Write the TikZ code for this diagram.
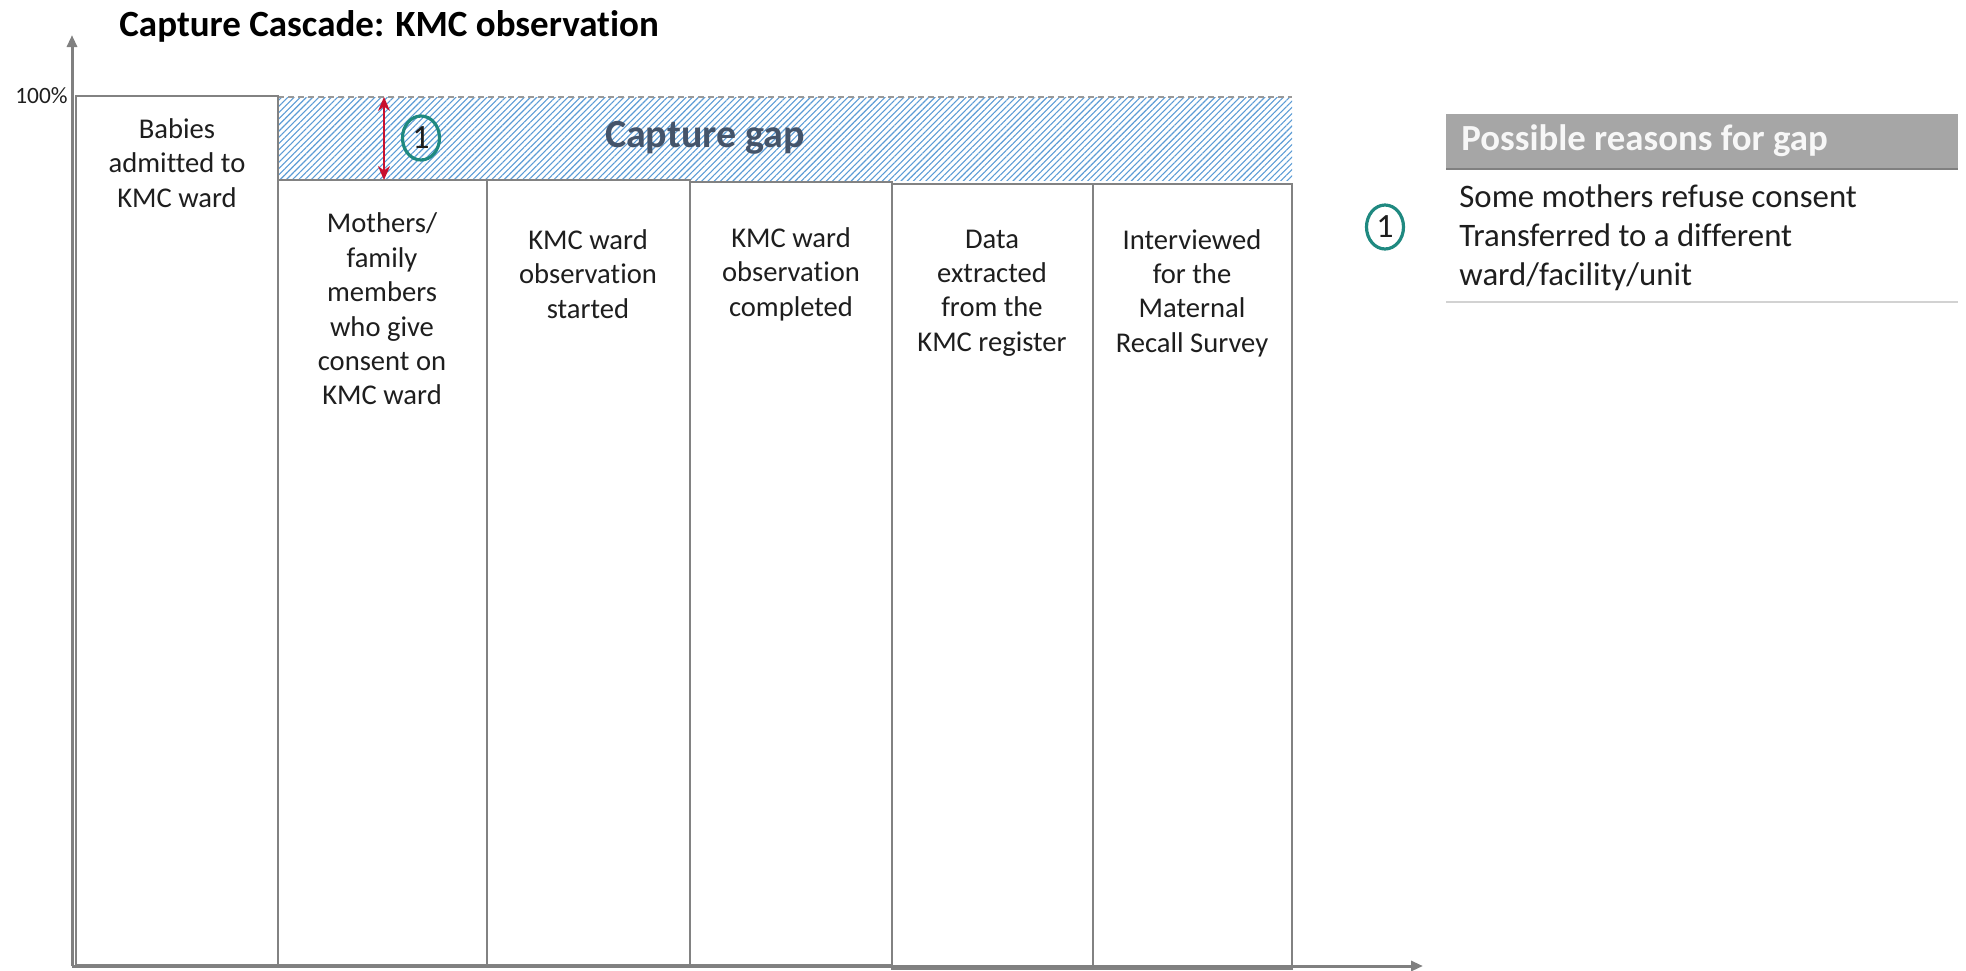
\documentclass[tikz,border=0pt]{standalone}
\usepackage{fontspec}
\setmainfont{Carlito}[Ligatures=NoCommon]
\usetikzlibrary{arrows.meta,patterns.meta,shapes.geometric}
\definecolor{axisgray}{RGB}{128,128,128}
\definecolor{boxgray}{RGB}{130,130,130}
\definecolor{hatchblue}{RGB}{91,155,213}
\definecolor{gapblue}{RGB}{68,84,106}
\definecolor{arrowred}{RGB}{200,16,46}
\definecolor{tealc}{RGB}{31,137,128}
\definecolor{headgray}{RGB}{166,166,166}
\definecolor{rulegray}{RGB}{210,210,210}
\definecolor{txt}{RGB}{30,30,30}
\tikzset{
  axisline/.style={draw=axisgray, line width=1.5pt, -{Triangle[length=6pt,width=5pt]}},
  barbox/.style={draw=boxgray, line width=0.8pt, fill=white},
  bartext/.style={align=center, inner sep=0pt, text=txt, font=\fontsize{14.3}{17.2}\selectfont},
  numcircle/.style={ellipse, draw=tealc, line width=1.6pt, inner sep=0pt, minimum width=18.5pt, minimum height=22pt, text=txt, font=\fontsize{17}{17}\selectfont},
  gaphatch/.style={pattern={Lines[angle=45,distance=2.2pt,line width=0.55pt]}, pattern color=hatchblue},
  gapdash/.style={draw=axisgray!80, line width=0.8pt, dash pattern=on 3pt off 2pt},
  redarrow/.style={draw=arrowred, line width=0.9pt, {Stealth[length=7pt,width=6pt]}-{Stealth[length=7pt,width=6pt]}},
}
\begin{document}
\begin{tikzpicture}[x=0.5pt,y=-0.5pt]
\useasboundingbox (0,0) rectangle (1966,970);
% title
\node[anchor=base west, inner sep=0pt, font=\bfseries\fontsize{18.5}{20}\selectfont] (title) at (119,36) {Capture Cascade: KMC observation};
% capture gap hatch
\fill[gaphatch] (278,97) rectangle (1292,180);
\coordinate (dashL) at (278,97);
\coordinate (dashR) at (1292,97);
\draw[gapdash] (dashL) -- (dashR);
% bars
\draw[barbox] (76,96) rectangle (278,965);
\draw[barbox] (278,180) rectangle (487,965);
\draw[barbox] (487,180) rectangle (690,965);
\draw[barbox] (690,182) rectangle (892,965);
\draw[barbox] (892,184) rectangle (1093,969);
\draw[barbox] (1093,184) rectangle (1292,969);
% bar texts
\node[bartext] (b1) at (177,163) {Babies\\admitted to\\KMC ward};
\node[bartext] (b2) at (382,309) {Mothers/\\family\\members\\who give\\consent on\\KMC ward};
\node[bartext] (b3) at (588,274) {KMC ward\\observation\\started};
\node[bartext] (b4) at (791,274) {KMC ward\\observation\\completed};
\node[bartext] (b5) at (992,293) {Data\\extracted\\from the\\KMC register};
\node[bartext] (b6) at (1192,293) {Interviewed\\for the\\Maternal\\Recall Survey};
% axes
\coordinate (origin) at (72,966);
\coordinate (ytip) at (72,35);
\coordinate (xtip) at (1423,966);
\draw[axisline] (origin) -- (ytip);
\draw[axisline] (origin) -- (xtip);
\node[anchor=east, inner sep=0pt, text=txt, font=\fontsize{11.7}{12}\selectfont] (pct) at (68,96) {100\%};
% gap annotation
\coordinate (gtop) at (384,97);
\coordinate (gbot) at (384,180);
\draw[redarrow] (gtop) -- (gbot);
\node[numcircle] (c1) at (421,138) {1};
\node[inner sep=0pt, text=gapblue, font=\bfseries\fontsize{20}{20}\selectfont] (gap) at (705,138) {Capture gap};
% table
\fill[headgray] (1446,114) rectangle (1958,169);
\coordinate (hruleL) at (1446,169);
\coordinate (hruleR) at (1958,169);
\draw[draw=gray, line width=0.8pt] (hruleL) -- (hruleR);
\node[anchor=west, inner sep=0pt, text=white!94!gray, font=\bfseries\fontsize{18.4}{19}\selectfont] (head) at (1461,141) {Possible reasons for gap};
\node[anchor=west, align=left, inner sep=0pt, text=txt, font=\fontsize{16.4}{19.5}\selectfont] (reasons) at (1459,238) {Some mothers refuse consent\\Transferred to a different\\ward/facility/unit};
\coordinate (bruleL) at (1446,302);
\coordinate (bruleR) at (1958,302);
\draw[draw=rulegray, line width=1.2pt] (bruleL) -- (bruleR);
\node[numcircle] (c2) at (1385,227) {1};
\end{tikzpicture}
\end{document}
